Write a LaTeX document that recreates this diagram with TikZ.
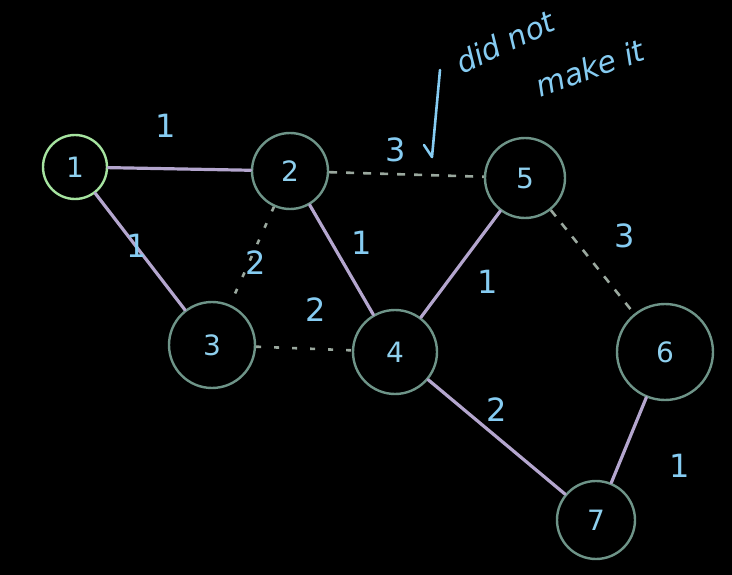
\documentclass[tikz,border=0pt]{standalone}
\usepackage{fontspec}
\setmainfont{DejaVu Sans}
\begin{document}
\begin{tikzpicture}[x=1pt,y=-1pt,
  vtx/.style={circle,draw=nodegray,line width=2.4pt,minimum size=#1,inner sep=0pt,text=nodeblue,font=\fontsize{28}{28}\selectfont},
  vtx/.default=78pt,
  solidedge/.style={draw=edgepurple,line width=3.2pt,line cap=round},
  dashedge/.style={draw=dashgray,line width=2.6pt,dash pattern=on 8pt off 9pt},
  dotedge/.style={draw=dashgray,line width=2.6pt,dash pattern=on 5pt off 13pt},
  wlabel/.style={text=labelblue,font=\fontsize{32}{32}\selectfont},
  note/.style={text=labelblue,inner sep=1pt,font=\itshape\fontsize{30}{30}\selectfont}]
\definecolor{nodegray}{HTML}{6E9488}
\definecolor{nodegreen}{HTML}{A6E4A0}
\definecolor{nodeblue}{HTML}{8FD0EE}
\definecolor{edgepurple}{HTML}{B4A6CE}
\definecolor{dashgray}{HTML}{9AA89E}
\definecolor{labelblue}{HTML}{86CCF2}
\fill[black] (0,0) rectangle (732,575);
\useasboundingbox (0,0) rectangle (732,575);

\node[vtx=64pt,draw=nodegreen] (n1) at (75,167) {1};
\node[vtx=76pt] (n2) at (290,171) {2};
\node[vtx=80pt] (n5) at (525,178) {5};
\node[vtx=86pt] (n3) at (212,345) {3};
\node[vtx=84pt] (n4) at (395,352) {4};
\node[vtx=96pt] (n6) at (665,352) {6};
\node[vtx=78pt] (n7) at (596,520) {7};

\draw[solidedge] (n1) -- (n2);
\draw[solidedge] (n1) -- (n3);
\draw[solidedge] (n2) -- (n4);
\draw[solidedge] (n4) -- (n5);
\draw[solidedge] (n4) -- (n7);
\draw[solidedge] (n6) -- (n7);
\draw[dashedge] (n2) -- (n5);
\draw[dashedge] (n5) -- (n6);
\draw[dotedge] (n2) -- (n3);
\draw[dotedge] (n3) -- (n4);

\node[wlabel] (w12) at (166,126) {1};
\node[wlabel] (w13) at (137,246) {1};
\node[wlabel] (w23) at (256,263) {2};
\node[wlabel] (w24) at (362,243) {1};
\node[wlabel] (w25) at (396,150) {3};
\node[wlabel] (w34) at (316,310) {2};
\node[wlabel] (w45) at (488,282) {1};
\node[wlabel] (w56) at (625,236) {3};
\node[wlabel] (w47) at (497,410) {2};
\node[wlabel] (w67) at (680,466) {1};

\node[note,rotate=25] (t1) at (505,42) {did not};
\node[note,rotate=20] (t2) at (590,68) {make it};
\coordinate (a1) at (440,70);
\coordinate (a2) at (432,157);
\coordinate (a3) at (424,145);
\draw[draw=labelblue,line width=2.6pt,line cap=round,line join=round] (a1) -- (a2) -- (a3);
\end{tikzpicture}
\end{document}
